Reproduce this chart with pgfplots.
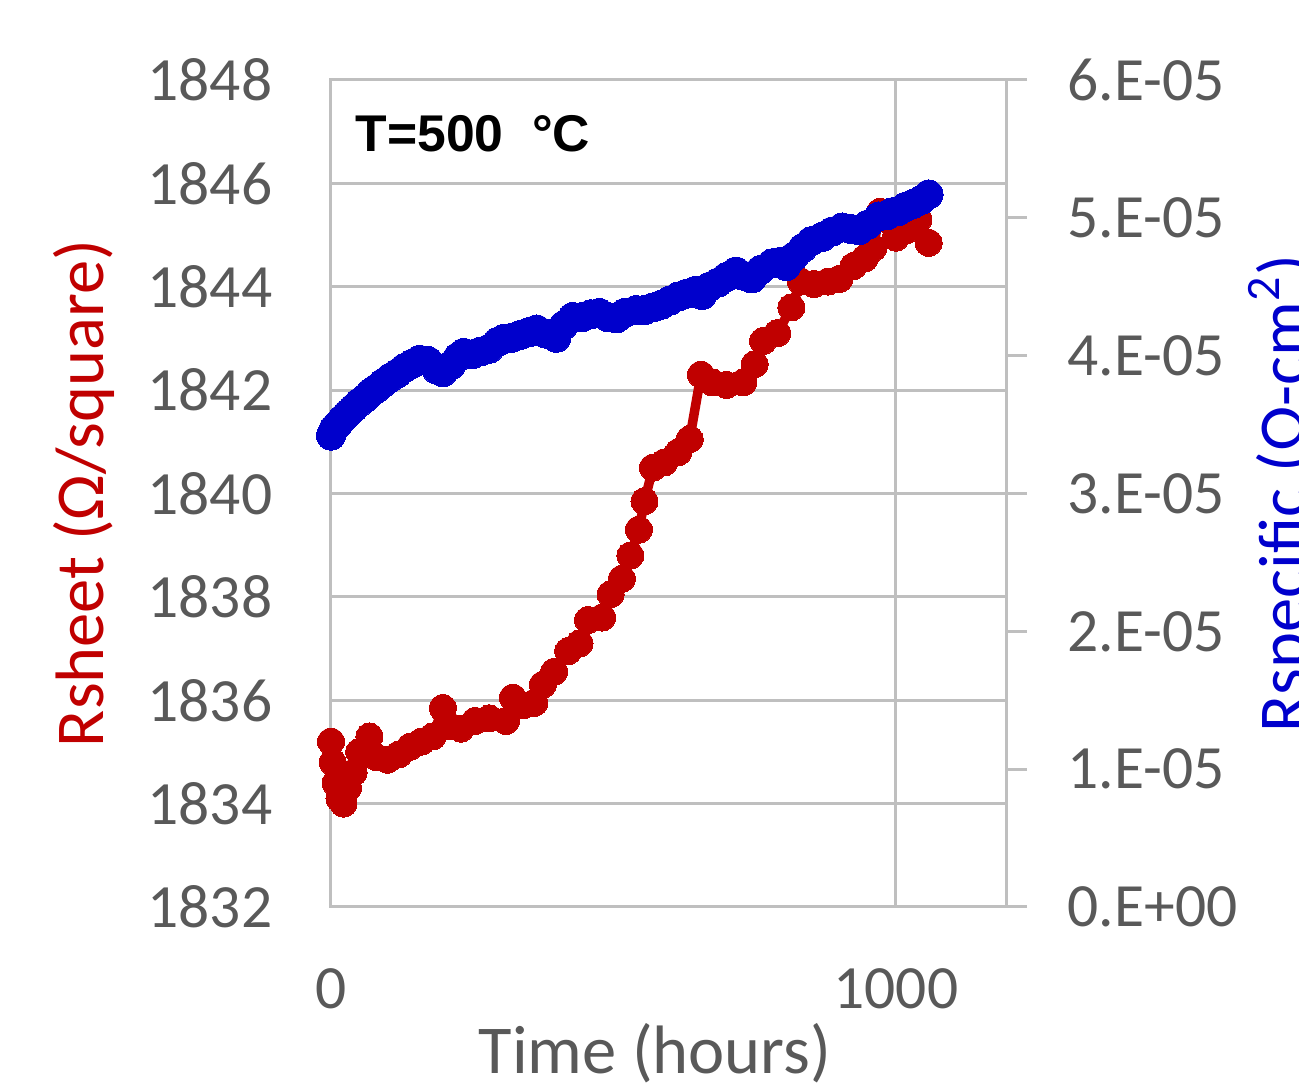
\documentclass[border=0pt]{standalone}
\usepackage{fontspec}
\setmainfont{Carlito}
\newfontfamily\titlefont{Liberation Sans}
\usepackage{pgfplots}
\pgfplotsset{compat=1.18}
\definecolor{rred}{HTML}{C00000}
\definecolor{rblue}{HTML}{0000CC}
\definecolor{gridgray}{HTML}{BFBFBF}
\definecolor{ticktext}{HTML}{595959}

% sheet resistance (Ohm/square) vs time (hours)
\pgfplotstableread{
t v
0 1835.2
3 1834.8
8 1834.4
15 1834.1
22 1834.0
30 1834.3
40 1834.6
50 1835.0
68 1835.3
80 1834.9
100 1834.85
120 1834.95
140 1835.1
160 1835.2
180 1835.3
198 1835.85
210 1835.5
230 1835.45
255 1835.6
280 1835.65
310 1835.6
322 1836.05
340 1835.9
360 1835.95
375 1836.3
395 1836.55
420 1836.95
440 1837.1
455 1837.55
480 1837.6
495 1838.05
515 1838.35
530 1838.8
545 1839.3
555 1839.85
570 1840.5
590 1840.6
615 1840.8
635 1841.05
655 1842.3
675 1842.15
700 1842.1
730 1842.15
750 1842.5
765 1842.95
790 1843.1
815 1843.6
832 1844.1
855 1844.05
880 1844.1
900 1844.15
925 1844.4
945 1844.55
960 1844.75
972 1845.45
985 1845.3
1000 1844.95
1020 1845.1
1040 1845.3
1058 1844.85
}\rsheet

% area specific resistance (Ohm cm^2) vs time (hours)
\pgfplotstableread{
t r
0 3.42e-5
5 3.47e-5
12 3.50e-5
20 3.54e-5
30 3.58e-5
40 3.62e-5
50 3.66e-5
60 3.69e-5
70 3.73e-5
80 3.76e-5
92 3.80e-5
105 3.84e-5
117 3.87e-5
130 3.91e-5
143 3.94e-5
157 3.97e-5
172 3.96e-5
187 3.90e-5
198 3.88e-5
212 3.93e-5
225 3.99e-5
235 4.02e-5
250 4.01e-5
265 4.03e-5
280 4.05e-5
295 4.10e-5
305 4.12e-5
320 4.13e-5
335 4.15e-5
350 4.17e-5
364 4.19e-5
380 4.16e-5
399 4.13e-5
412 4.22e-5
428 4.28e-5
445 4.28e-5
460 4.30e-5
475 4.31e-5
490 4.28e-5
505 4.27e-5
520 4.31e-5
540 4.33e-5
555 4.33e-5
570 4.35e-5
585 4.37e-5
600 4.40e-5
615 4.43e-5
630 4.45e-5
645 4.47e-5
657 4.44e-5
670 4.50e-5
685 4.53e-5
700 4.57e-5
717 4.61e-5
730 4.58e-5
745 4.56e-5
760 4.62e-5
781 4.67e-5
795 4.68e-5
806 4.65e-5
820 4.72e-5
835 4.78e-5
850 4.83e-5
869 4.86e-5
887 4.90e-5
905 4.93e-5
920 4.92e-5
935 4.91e-5
950 4.95e-5
970 5.01e-5
985 5.02e-5
993 5.04e-5
1005 5.05e-5
1017 5.08e-5
1030 5.10e-5
1045 5.13e-5
1058 5.17e-5
}\rspec

\begin{document}
\begin{tikzpicture}
\pgfplotsset{
  base/.style={
    scale only axis, width=67.5mm, height=82.7mm,
    at={(0,0)}, anchor=south west,
    xmin=0, xmax=1195, clip=false,
    tick label style={font=\fontsize{17.5}{20}\selectfont, text=ticktext, inner sep=0pt},
    label style={font=\fontsize{19.5}{22}\selectfont, inner sep=0pt},
    /pgf/number format/.cd, 1000 sep={}, assume math mode=true,
  },
}
\begin{axis}[base,
  ymin=1832, ymax=1848, ytick={1832,1834,...,1848},
  xtick={0,1000},
  grid=major,
  major grid style={gridgray, line width=0.3mm},
  axis line style={gridgray, line width=0.3mm},
  major tick length=0pt,
  yticklabel style={anchor=east, xshift=-5.8mm},
  xticklabel style={anchor=north, yshift=-6.1mm},
  xlabel={Time (hours)},
  xlabel style={at={([xshift=-1.35mm, yshift=-11.6mm]axis description cs:0.5,0)}, anchor=north, text=ticktext},
  ylabel={Rsheet (Ω/square)},
  ylabel style={at={([xshift=-27.8mm]axis description cs:0,0.5)}, anchor=north, text=rred},
]
\addplot[rred, line width=0.95mm, mark=*, mark size=1.35mm, mark options={fill=rred, draw=rred, line width=0pt}] table[x=t, y=v] {\rsheet};
\node[anchor=base west, font=\titlefont\bfseries\fontsize{14.7}{17}\selectfont, inner sep=0pt]
  at (rel axis cs:0,1) [xshift=2.4mm, yshift=-7.2mm] {T=500\ \ °C};
\end{axis}
\begin{axis}[base,
  axis y line*=right, axis x line=none,
  ymin=0, ymax=0.00006,
  scaled y ticks=false,
  ytick={0,0.00001,0.00002,0.00003,0.00004,0.00005,0.00006},
  yticklabels={0.E+00,1.E-05,2.E-05,3.E-05,4.E-05,5.E-05,6.E-05},
  tick align=outside, major tick length=2.1mm,
  tick style={gridgray, line width=0.3mm},
  axis line style={gridgray, line width=0.3mm},
  yticklabel style={anchor=west, xshift=4mm},
  ylabel={Rspecific (Ω-cm\textsuperscript{2})},
  ylabel style={at={([xshift=24.2mm]axis description cs:1,0.5)}, anchor=north, text=rblue},
]
\addplot[rblue, line width=0.95mm, mark=*, mark size=1.45mm, mark options={fill=rblue, draw=rblue, line width=0pt}] table[x=t, y=r] {\rspec};
\end{axis}
\pgfresetboundingbox
\useasboundingbox (-33.1mm,-18.2mm) rectangle (96.8mm,90.7mm);
\end{tikzpicture}
\end{document}
